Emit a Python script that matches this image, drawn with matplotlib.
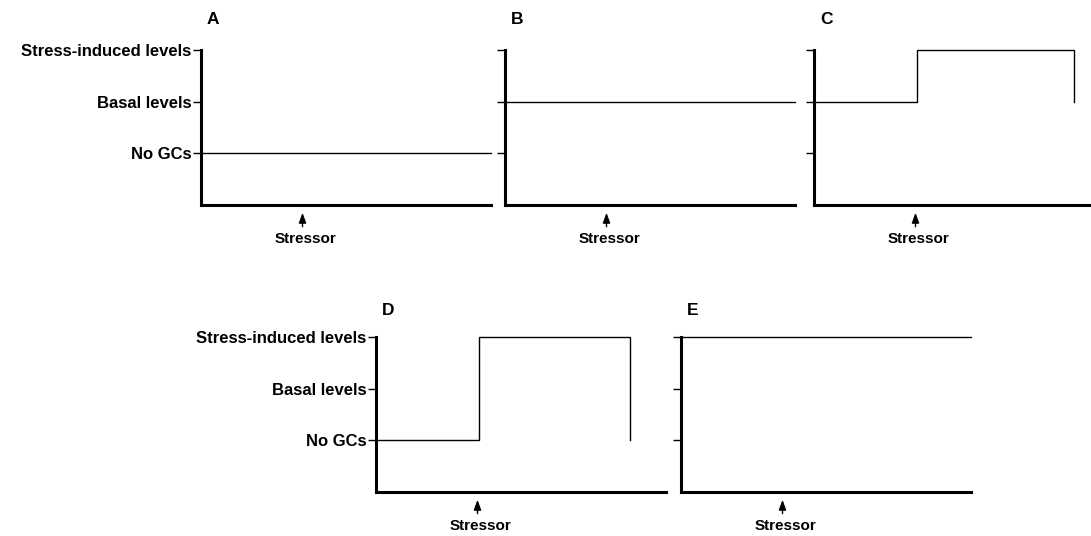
import matplotlib.pyplot as plt
from matplotlib.transforms import blended_transform_factory

plt.rcParams['font.family'] = ['Liberation Sans', 'DejaVu Sans']
plt.rcParams['font.weight'] = 'bold'

# Levels on the y axis
level_names = ['No GCs', 'Basal levels', 'Stress-induced levels']
level_values = [1, 2, 3]

stressor_x = 3.5

# GC level traces for each panel (time, level)
panels = ['A', 'B', 'C', 'D', 'E']
trace_x = {
	'A': [0, 10],
	'B': [0, 10],
	'C': [0, 3.55, 3.55, 8.95, 8.95],
	'D': [0, 3.55, 3.55, 8.75, 8.75],
	'E': [0, 10],
}
trace_y = {
	'A': [1, 1],
	'B': [2, 2],
	'C': [2, 2, 3, 3, 2],
	'D': [1, 1, 3, 3, 1],
	'E': [3, 3],
}
show_labels = {'A': True, 'B': False, 'C': False, 'D': True, 'E': False}

# pixel geometry: (left x, top y) of each axes box
W, H = 1091, 536
box_w, box_h = 290, 155
origin = {
	'A': (201, 50),
	'B': (505, 50),
	'C': (814, 50),
	'D': (376, 337),
	'E': (681, 337),
}
label_y = {'A': 1.2, 'B': 1.2, 'C': 1.2, 'D': 1.17, 'E': 1.17}

fig = plt.figure(figsize=(W / 100, H / 100), dpi=100)

for p in panels:
	x0, y0 = origin[p]
	ax = fig.add_axes([x0 / W, 1 - (y0 + box_h) / H, box_w / W, box_h / H])
	ax.set_xlim(0, 10)
	ax.set_ylim(0, 3)
	ax.plot(trace_x[p], trace_y[p], color='black', linewidth=1.0, clip_on=False,
		solid_joinstyle='miter')

	for side in ['top', 'right']:
		ax.spines[side].set_visible(False)
	for side in ['left', 'bottom']:
		ax.spines[side].set_linewidth(2.2)

	ax.set_xticks([])
	ax.set_yticks(level_values)
	if show_labels[p]:
		ax.set_yticklabels(level_names, fontsize=12, fontweight='bold')
	else:
		ax.set_yticklabels([])
	ax.tick_params(axis='y', length=6, width=1.0, pad=1)

	ax.text(0.02, label_y[p], p, transform=ax.transAxes, fontsize=12.5, fontweight='bold',
		ha='left', va='center')

	# stressor arrow below the time axis
	trans = blended_transform_factory(ax.transData, ax.transAxes)
	ax.annotate('', xy=(stressor_x, -0.05), xycoords=trans,
		xytext=(stressor_x, -0.14), textcoords=trans,
		arrowprops=dict(arrowstyle='-|>,head_length=0.6,head_width=0.22',
			color='black', lw=1.0, shrinkA=0, shrinkB=0))
	ax.text(stressor_x + 0.12, -0.22, 'Stressor', transform=trans, fontsize=11,
		fontweight='bold', ha='center', va='center')

plt.savefig('out.png', dpi=100)
